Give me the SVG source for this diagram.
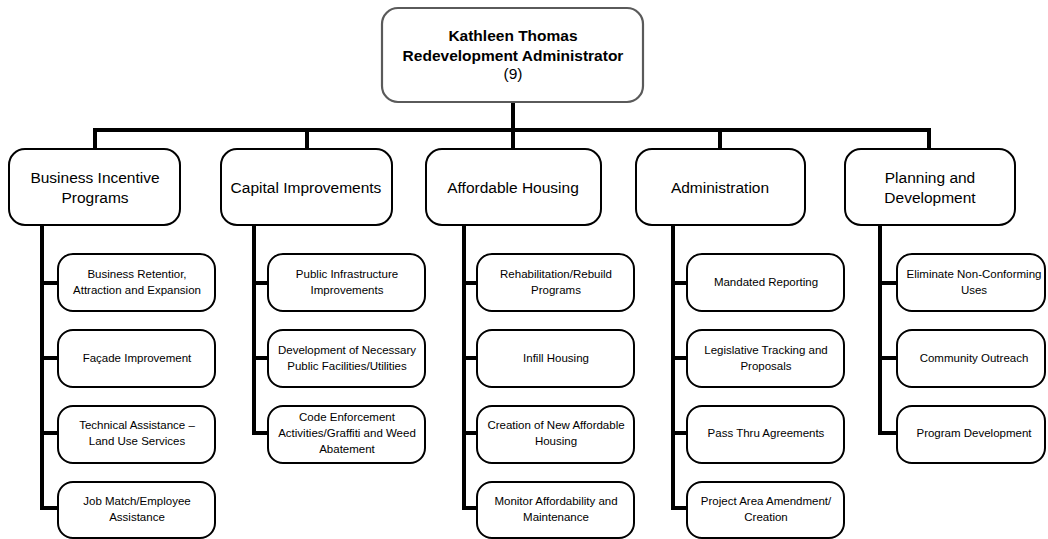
<svg xmlns="http://www.w3.org/2000/svg" width="1048" height="539" viewBox="0 0 1048 539">
<style>
.box{fill:#fff;stroke:#000;stroke-width:2}
.top{fill:#fff;stroke:#5a5a5a;stroke-width:2.2}
.t{font-family:"Liberation Sans",Arial,sans-serif;text-anchor:middle;fill:#000}
.l2{font-size:15.5px}
.l3{font-size:11.5px}
.b{font-weight:bold;font-size:15.5px}
.ln{stroke:#000;stroke-width:4;fill:none}
</style>
<rect width="1048" height="539" fill="#fff"/>
<g id="connectors">
<path class="ln" d="M513 102V130M95 130H930M95 128V150M307 128V150M513 128V150M720 128V150M929 128V150"/>
<path class="ln" d="M42 225V510M40 283H58M40 358H58M40 433H58M40 508H58"/>
<path class="ln" d="M254 225V435M252 283H268M252 358H268M252 433H268"/>
<path class="ln" d="M464 225V510M462 283H477M462 358H477M462 433H477M462 508H477"/>
<path class="ln" d="M673 225V510M671 283H687M671 358H687M671 433H687M671 508H687"/>
<path class="ln" d="M880 225V435M878 283H897M878 358H897M878 433H897"/>
</g>
<g id="root"><rect class="top" x="382" y="8" width="261" height="94" rx="16"/>
<text class="t b" x="513" y="41">Kathleen Thomas</text>
<text class="t b" x="513" y="61">Redevelopment Administrator</text>
<text class="t l2" x="513" y="79">(9)</text></g>
<g id="n-bip"><rect class="box" x="9" y="149" width="171" height="76" rx="16"/><text class="t l2" x="95" y="183">Business Incentive</text><text class="t l2" x="95" y="203">Programs</text></g>
<g id="n-ci"><rect class="box" x="221" y="149" width="171" height="76" rx="16"/><text class="t l2" x="306" y="193">Capital Improvements</text></g>
<g id="n-ah"><rect class="box" x="426" y="149" width="175" height="76" rx="16"/><text class="t l2" x="513" y="193">Affordable Housing</text></g>
<g id="n-adm"><rect class="box" x="636" y="149" width="169" height="76" rx="16"/><text class="t l2" x="720" y="193">Administration</text></g>
<g id="n-pd"><rect class="box" x="845" y="149" width="170" height="76" rx="16"/><text class="t l2" x="930" y="183">Planning and</text><text class="t l2" x="930" y="203">Development</text></g>

<g id="c1a"><rect class="box" x="58" y="254" width="157" height="57" rx="15"/><text class="t l3" x="137" y="278">Business Retentior,</text><text class="t l3" x="137" y="294">Attraction and Expansion</text></g>
<g id="c1b"><rect class="box" x="58" y="330" width="157" height="57" rx="15"/><text class="t l3" x="137" y="362">Façade Improvement</text></g>
<g id="c1c"><rect class="box" x="58" y="406" width="157" height="57" rx="15"/><text class="t l3" x="137" y="429">Technical Assistance –</text><text class="t l3" x="137" y="445">Land Use Services</text></g>
<g id="c1d"><rect class="box" x="58" y="482" width="157" height="56" rx="15"/><text class="t l3" x="137" y="505">Job Match/Employee</text><text class="t l3" x="137" y="521">Assistance</text></g>

<g id="c2a"><rect class="box" x="268" y="254" width="157" height="57" rx="15"/><text class="t l3" x="347" y="278">Public Infrastructure</text><text class="t l3" x="347" y="294">Improvements</text></g>
<g id="c2b"><rect class="box" x="268" y="330" width="157" height="57" rx="15"/><text class="t l3" x="347" y="354">Development of Necessary</text><text class="t l3" x="347" y="370">Public Facilities/Utilities</text></g>
<g id="c2c"><rect class="box" x="268" y="406" width="157" height="57" rx="15"/><text class="t l3" x="347" y="421">Code Enforcement</text><text class="t l3" x="347" y="437">Activities/Graffiti and Weed</text><text class="t l3" x="347" y="453">Abatement</text></g>

<g id="c3a"><rect class="box" x="477" y="254" width="157" height="57" rx="15"/><text class="t l3" x="556" y="278">Rehabilitation/Rebuild</text><text class="t l3" x="556" y="294">Programs</text></g>
<g id="c3b"><rect class="box" x="477" y="330" width="157" height="57" rx="15"/><text class="t l3" x="556" y="362">Infill Housing</text></g>
<g id="c3c"><rect class="box" x="477" y="406" width="157" height="57" rx="15"/><text class="t l3" x="556" y="429">Creation of New Affordable</text><text class="t l3" x="556" y="445">Housing</text></g>
<g id="c3d"><rect class="box" x="477" y="482" width="157" height="56" rx="15"/><text class="t l3" x="556" y="505">Monitor Affordability and</text><text class="t l3" x="556" y="521">Maintenance</text></g>

<g id="c4a"><rect class="box" x="687" y="254" width="157" height="57" rx="15"/><text class="t l3" x="766" y="286">Mandated Reporting</text></g>
<g id="c4b"><rect class="box" x="687" y="330" width="157" height="57" rx="15"/><text class="t l3" x="766" y="354">Legislative Tracking and</text><text class="t l3" x="766" y="370">Proposals</text></g>
<g id="c4c"><rect class="box" x="687" y="406" width="157" height="57" rx="15"/><text class="t l3" x="766" y="437">Pass Thru Agreements</text></g>
<g id="c4d"><rect class="box" x="687" y="482" width="157" height="56" rx="15"/><text class="t l3" x="766" y="505">Project Area Amendment/</text><text class="t l3" x="766" y="521">Creation</text></g>

<g id="c5a"><rect class="box" x="897" y="254" width="148" height="57" rx="15"/><text class="t l3" x="974" y="278">Eliminate Non-Conforming</text><text class="t l3" x="974" y="294">Uses</text></g>
<g id="c5b"><rect class="box" x="897" y="330" width="148" height="57" rx="15"/><text class="t l3" x="974" y="362">Community Outreach</text></g>
<g id="c5c"><rect class="box" x="897" y="406" width="148" height="57" rx="15"/><text class="t l3" x="974" y="437">Program Development</text></g>
</svg>
